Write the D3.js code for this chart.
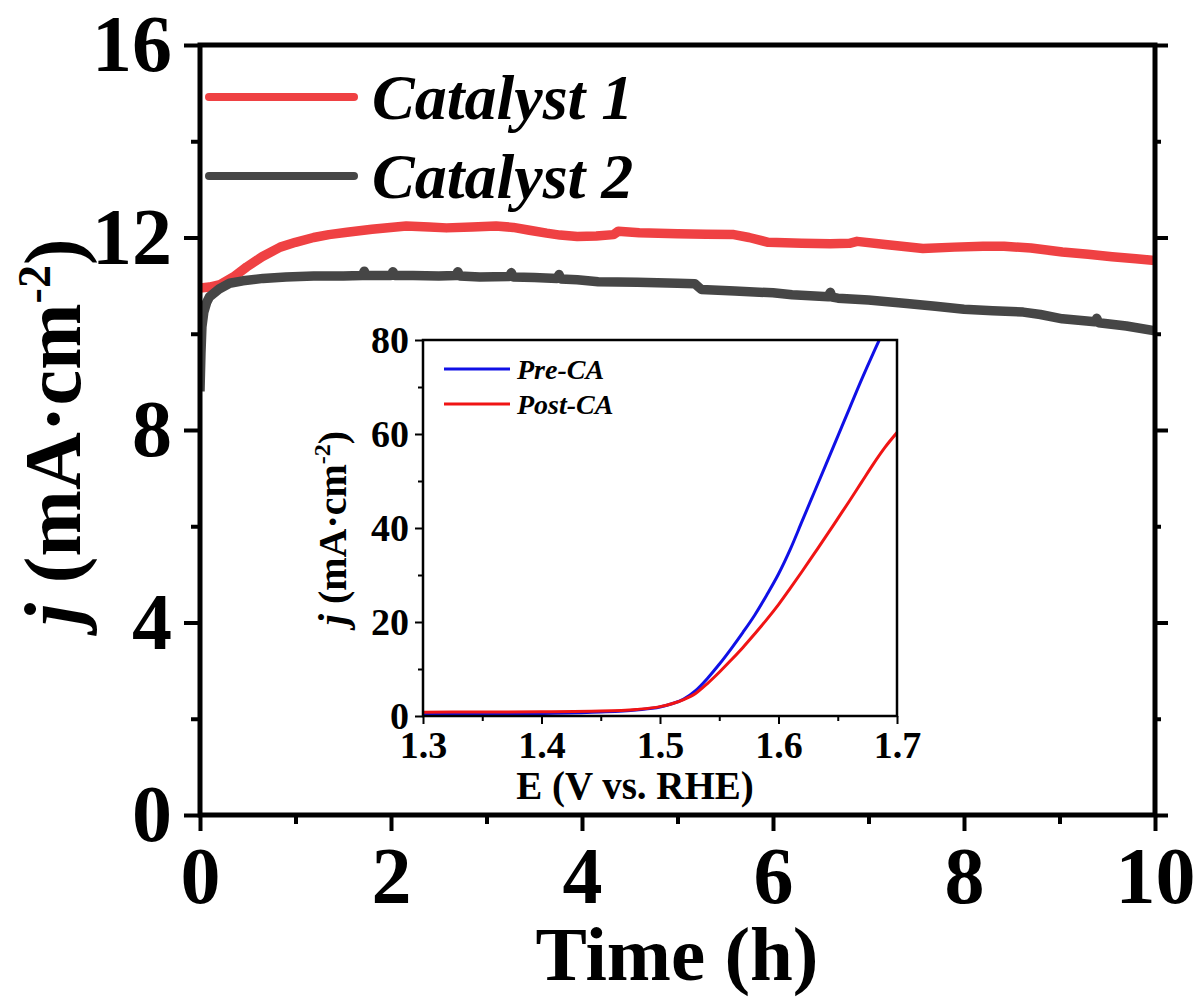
<!DOCTYPE html>
<html>
<head>
<meta charset="utf-8">
<script src="https://cdn.jsdelivr.net/npm/d3@7"></script>
<style>
  body { margin: 0; background: #fff; }
  svg { display: block; font-family: "Liberation Serif", "Times New Roman", serif; font-weight: bold; }
</style>
</head>
<body>
<svg id="chart" width="1195" height="999"></svg>
<script>
// main plot: chronoamperometry, time (h) vs j (mA cm-2)
const timeCat1 = [0, 0.1, 0.21, 0.35, 0.49, 0.65, 0.84, 1.0, 1.19, 1.35, 1.54, 1.8, 2.16, 2.4, 2.58, 2.85, 3.1, 3.28, 3.45, 3.63, 3.77, 3.95, 4.15, 4.33, 4.38, 4.6, 5.0, 5.3, 5.59, 5.75, 5.95, 6.3, 6.6, 6.8, 6.88, 7.2, 7.57, 7.9, 8.2, 8.42, 8.7, 9.03, 9.3, 9.55, 9.8, 10];
const cat1 = [10.95, 10.97, 11.02, 11.18, 11.39, 11.6, 11.8, 11.9, 12.0, 12.06, 12.11, 12.17, 12.24, 12.22, 12.2, 12.22, 12.24, 12.21, 12.15, 12.09, 12.05, 12.02, 12.03, 12.06, 12.13, 12.1, 12.08, 12.07, 12.06, 12.0, 11.9, 11.88, 11.87, 11.88, 11.92, 11.85, 11.77, 11.8, 11.82, 11.82, 11.78, 11.7, 11.65, 11.6, 11.56, 11.52];

const timeCat2 = [0, 0.01, 0.02, 0.04, 0.07, 0.1, 0.2, 0.31, 0.45, 0.66, 0.9, 1.19, 1.5, 1.7, 1.72, 1.74, 2.0, 2.02, 2.04, 2.23, 2.5, 2.68, 2.7, 2.72, 2.93, 3.24, 3.26, 3.28, 3.5, 3.74, 3.76, 3.78, 3.95, 4.17, 4.58, 5.0, 5.18, 5.25, 5.6, 6.0, 6.2, 6.58, 6.6, 6.62, 6.68, 7.0, 7.4, 7.7, 8.0, 8.3, 8.62, 8.8, 9.03, 9.37, 9.39, 9.41, 9.7, 10];
const cat2 = [8.8, 9.6, 10.14, 10.45, 10.65, 10.77, 10.93, 11.05, 11.1, 11.15, 11.18, 11.2, 11.2, 11.21, 11.3, 11.21, 11.21, 11.29, 11.21, 11.21, 11.2, 11.21, 11.29, 11.2, 11.18, 11.19, 11.27, 11.18, 11.17, 11.15, 11.23, 11.14, 11.12, 11.08, 11.07, 11.05, 11.04, 10.92, 10.89, 10.85, 10.81, 10.77, 10.86, 10.76, 10.74, 10.7, 10.63, 10.57, 10.51, 10.48, 10.45, 10.4, 10.31, 10.25, 10.32, 10.23, 10.16, 10.06];

// inset: LSV before / after CA
const potPre = [1.30, 1.35, 1.40, 1.45, 1.48, 1.50, 1.51, 1.52, 1.53, 1.54, 1.55, 1.56, 1.57, 1.58, 1.59, 1.60, 1.61, 1.62, 1.63, 1.64, 1.65, 1.66, 1.67, 1.68, 1.686, 1.69];
const jPre = [0.3, 0.4, 0.55, 0.85, 1.3, 1.9, 2.6, 3.6, 5.4, 8.0, 11.0, 14.3, 17.8, 21.5, 25.7, 30.2, 35.5, 41.5, 47.5, 53.5, 59.5, 65.5, 71.5, 77.2, 80.5, 82.5];
const potPost = [1.30, 1.35, 1.40, 1.45, 1.48, 1.50, 1.51, 1.52, 1.53, 1.54, 1.55, 1.56, 1.57, 1.58, 1.59, 1.60, 1.61, 1.62, 1.63, 1.64, 1.65, 1.66, 1.67, 1.68, 1.69, 1.70];
const jPost = [0.8, 0.85, 0.9, 1.05, 1.4, 2.0, 2.6, 3.5, 4.8, 6.9, 9.3, 11.9, 14.6, 17.5, 20.5, 23.7, 27.2, 30.8, 34.5, 38.2, 42.0, 45.8, 49.7, 53.6, 57.2, 60.3];

const mainXTicks = [0, 2, 4, 6, 8, 10];
const mainYTicks = [0, 4, 8, 12, 16];
const insetXTicks = [1.3, 1.4, 1.5, 1.6, 1.7];
const insetYTicks = [0, 20, 40, 60, 80];

const seriesMain = [
  { name: "Catalyst 1", t: timeCat1, j: cat1, color: "#ef4143" },
  { name: "Catalyst 2", t: timeCat2, j: cat2, color: "#464646" }
];
const seriesInset = [
  { name: "Pre-CA", e: potPre, j: jPre, color: "#1010e6" },
  { name: "Post-CA", e: potPost, j: jPost, color: "#f01414" }
];

const svg = d3.select("#chart");
const serif = '"Liberation Serif", "Times New Roman", serif';

// ---------- main plot ----------
const x = d3.scaleLinear().domain([0, 10]).range([200, 1155]);
const y = d3.scaleLinear().domain([0, 16]).range([815, 45]);

svg.append("clipPath").attr("id", "clipMain")
  .append("rect").attr("x", 200).attr("y", 45).attr("width", 955).attr("height", 770);

const line = d3.line().x(d => x(d[0])).y(d => y(d[1]));

svg.append("g").attr("clip-path", "url(#clipMain)")
  .selectAll("path").data(seriesMain).enter().append("path")
    .attr("fill", "none")
    .attr("stroke", d => d.color)
    .attr("stroke-width", 9.5)
    .attr("stroke-linejoin", "round")
    .attr("d", d => line(d.t.map((t, i) => [t, d.j[i]])));

function styleAxis(g, sw, fs) {
  g.attr("font-family", serif).attr("font-weight", "bold");
  g.select(".domain").remove();
  g.selectAll(".tick line").attr("stroke", "#000").attr("stroke-width", sw);
  g.selectAll(".tick text").attr("fill", "#000").attr("font-size", fs);
}

// minor ticks first
svg.append("g").attr("transform", "translate(0,815)")
  .call(d3.axisBottom(x).tickValues([1, 3, 5, 7, 9]).tickSize(9).tickFormat(""))
  .call(g => styleAxis(g, 4, 0));
svg.append("g").attr("transform", "translate(200,0)")
  .call(d3.axisLeft(y).tickValues([2, 6, 10, 14]).tickSize(9).tickFormat(""))
  .call(g => styleAxis(g, 4, 0));
svg.append("g").attr("transform", "translate(1155,0)")
  .call(d3.axisLeft(y).tickValues([2, 6, 10, 14]).tickSize(-6).tickFormat(""))
  .call(g => styleAxis(g, 4, 0));

svg.append("g").attr("transform", "translate(0,815)")
  .call(d3.axisBottom(x).tickValues(mainXTicks).tickSize(16).tickPadding(15).tickFormat(d3.format("d")))
  .call(g => styleAxis(g, 4, 80));
svg.append("g").attr("transform", "translate(200,0)")
  .call(d3.axisLeft(y).tickValues(mainYTicks).tickSize(16).tickPadding(12).tickFormat(d3.format("d")))
  .call(g => styleAxis(g, 4, 80));
svg.append("g").attr("transform", "translate(1155,0)")
  .call(d3.axisLeft(y).tickValues(mainYTicks).tickSize(-13).tickFormat(""))
  .call(g => styleAxis(g, 4, 0));

svg.append("rect")
  .attr("x", 200).attr("y", 45).attr("width", 955).attr("height", 770)
  .attr("fill", "none").attr("stroke", "#000").attr("stroke-width", 5);

// axis titles
svg.append("text")
  .attr("x", 677).attr("y", 980)
  .attr("text-anchor", "middle").attr("font-size", 77)
  .text("Time (h)");

const yTitle = svg.append("text")
  .attr("transform", "translate(80,432) rotate(-90)")
  .attr("text-anchor", "middle").attr("font-size", 80);
yTitle.append("tspan").attr("font-style", "italic").text("j");
yTitle.append("tspan").text(" (mA·cm");
yTitle.append("tspan").attr("font-size", 46).attr("dy", -30).text("-2");
yTitle.append("tspan").attr("dy", 30).text(")");

// legend
const leg = svg.append("g").selectAll("g").data(seriesMain).enter().append("g")
  .attr("transform", (d, i) => `translate(0,${97 + i * 79})`);
leg.append("line")
  .attr("x1", 209).attr("x2", 354)
  .attr("stroke", d => d.color).attr("stroke-width", 8).attr("stroke-linecap", "round");
leg.append("text")
  .attr("x", 372).attr("y", 22)
  .attr("font-size", 64).attr("font-style", "italic")
  .text(d => d.name);

// ---------- inset ----------
const xi = d3.scaleLinear().domain([1.3, 1.7]).range([423, 897]);
const yi = d3.scaleLinear().domain([0, 80]).range([716, 340]);

svg.append("rect")
  .attr("x", 423).attr("y", 340).attr("width", 474).attr("height", 376)
  .attr("fill", "#fff");

svg.append("clipPath").attr("id", "clipInset")
  .append("rect").attr("x", 423).attr("y", 340).attr("width", 474).attr("height", 376);

const lineInset = d3.line().curve(d3.curveMonotoneX).x(d => xi(d[0])).y(d => yi(d[1]));

svg.append("g").attr("clip-path", "url(#clipInset)")
  .selectAll("path").data(seriesInset).enter().append("path")
    .attr("fill", "none")
    .attr("stroke", d => d.color)
    .attr("stroke-width", 3)
    .attr("d", d => lineInset(d.e.map((e, i) => [e, d.j[i]])));

svg.append("g").attr("transform", "translate(0,716)")
  .call(d3.axisBottom(xi).tickValues([1.35, 1.45, 1.55, 1.65]).tickSize(5).tickFormat(""))
  .call(g => styleAxis(g, 2, 0));
svg.append("g").attr("transform", "translate(423,0)")
  .call(d3.axisLeft(yi).tickValues([10, 30, 50, 70]).tickSize(5).tickFormat(""))
  .call(g => styleAxis(g, 2, 0));

svg.append("g").attr("transform", "translate(0,716)")
  .call(d3.axisBottom(xi).tickValues(insetXTicks).tickSize(8).tickPadding(7).tickFormat(d3.format(".1f")))
  .call(g => styleAxis(g, 2, 38));
svg.append("g").attr("transform", "translate(423,0)")
  .call(d3.axisLeft(yi).tickValues(insetYTicks).tickSize(8).tickPadding(6).tickFormat(d3.format("d")))
  .call(g => styleAxis(g, 2, 38));

svg.append("rect")
  .attr("x", 423).attr("y", 340).attr("width", 474).attr("height", 376)
  .attr("fill", "none").attr("stroke", "#000").attr("stroke-width", 2.5);

svg.append("text")
  .attr("x", 635).attr("y", 799)
  .attr("text-anchor", "middle").attr("font-size", 39)
  .text("E (V vs. RHE)");

const yiTitle = svg.append("text")
  .attr("transform", "translate(346,528) rotate(-90)")
  .attr("text-anchor", "middle").attr("font-size", 40);
yiTitle.append("tspan").attr("font-style", "italic").text("j");
yiTitle.append("tspan").text(" (mA·cm");
yiTitle.append("tspan").attr("font-size", 24).attr("dy", -16).text("-2");
yiTitle.append("tspan").attr("dy", 16).text(")");

const legI = svg.append("g").selectAll("g").data(seriesInset).enter().append("g")
  .attr("transform", (d, i) => `translate(0,${369 + i * 35})`);
legI.append("line")
  .attr("x1", 444).attr("x2", 510)
  .attr("stroke", d => d.color).attr("stroke-width", 3);
legI.append("text")
  .attr("x", 517).attr("y", 10)
  .attr("font-size", 28).attr("font-style", "italic")
  .text(d => d.name);
</script>
</body>
</html>
